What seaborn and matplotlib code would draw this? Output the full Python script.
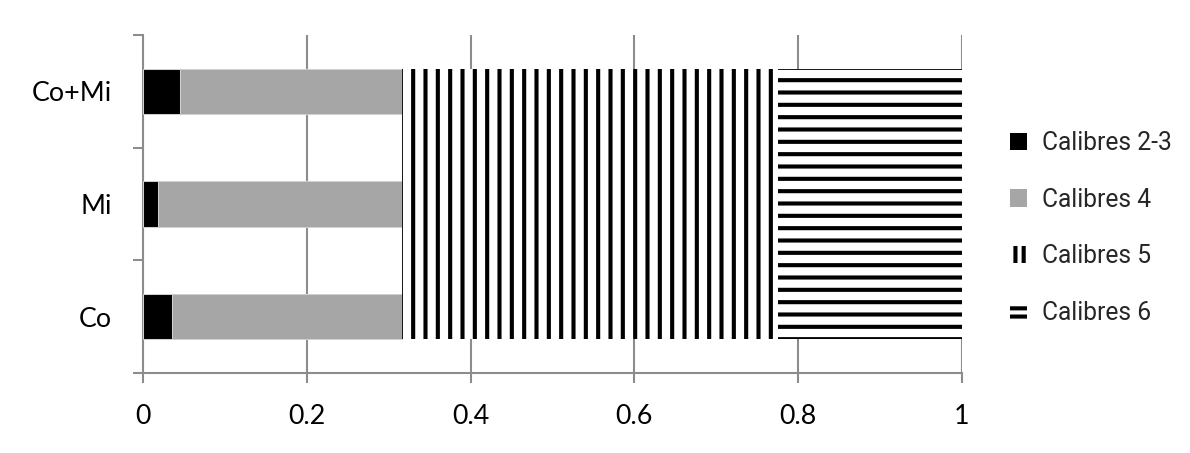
import numpy as np
import pandas as pd
import seaborn as sns
import matplotlib.pyplot as plt
from matplotlib.patches import Patch
from matplotlib.ticker import FuncFormatter, FixedLocator

# data (shares, stacked left to right)
categories = ['Co', 'Mi', 'Co+Mi']
cal_23 = [0.035, 0.018, 0.045]
cal_4 = [0.281, 0.298, 0.271]
cal_5 = [0.459, 0.459, 0.459]
cal_6 = [0.225, 0.225, 0.225]
labels = ['Calibres 2-3', 'Calibres 4', 'Calibres 5', 'Calibres 6']

sns.set_theme(style='white')
plt.rcParams['font.family'] = ['Lato', 'DejaVu Sans']
plt.rcParams['hatch.linewidth'] = 2.0
plt.rcParams['hatch.color'] = 'black'

order = categories[::-1]  # seaborn draws first category on top
df = pd.DataFrame({'cat': categories, 'c23': cal_23, 'c4': cal_4,
                   'c5': cal_5, 'c6': cal_6})
df['cum4'] = df['c23'] + df['c4']
df['cum5'] = df['cum4'] + df['c5']

fig, ax = plt.subplots(figsize=(1190 / 148, 453 / 148), dpi=148)
fig.subplots_adjust(left=143 / 1190, right=962 / 1190, top=1 - 35 / 453, bottom=1 - 373 / 453)

bar_h = 0.4
gray = '#a6a6a6'
sns.barplot(data=df, x='cum4', y='cat', order=order, color=gray, width=bar_h,
            saturation=1, edgecolor='#d0d0d0', linewidth=0.5, ax=ax, zorder=2)
sns.barplot(data=df, x='c23', y='cat', order=order, color='black', width=bar_h,
            saturation=1, edgecolor='#d0d0d0', linewidth=0.5, ax=ax, zorder=3)

# hatched parts are drawn as one joined block in the original
d = df.set_index('cat').loc[order]
n = len(order)
for i, (cat, row) in enumerate(d.iterrows()):
    lo = i - 0.5 if i > 0 else i - bar_h / 2
    hi = i + 0.5 if i < n - 1 else i + bar_h / 2
    ax.barh(lo, row['c5'], height=hi - lo, left=row['cum4'], align='edge',
            facecolor='white', edgecolor='black', linewidth=0, hatch='||', zorder=2)
    ax.barh(lo, row['c6'], height=hi - lo, left=row['cum5'], align='edge',
            facecolor='white', edgecolor='black', linewidth=0, hatch='--', zorder=2)

ax.set_xlim(0, 1)
ax.set_ylim(n - 0.5, -0.5)
ax.set_xticks(np.arange(0, 1.01, 0.2))
ax.xaxis.set_major_formatter(FuncFormatter(lambda v, p: '%g' % round(v, 1)))
ax.yaxis.set_minor_locator(FixedLocator(np.arange(-0.5, n, 1.0)))
ax.set_xlabel('')
ax.set_ylabel('')

grid_c = '#8c8c8c'
ax.set_axisbelow(True)
ax.grid(axis='x', color=grid_c, linewidth=1.0)
ax.grid(axis='y', visible=False)
sns.despine(ax=ax, top=True, right=True)
for s in ['left', 'bottom']:
    ax.spines[s].set_color(grid_c)
    ax.spines[s].set_linewidth(1.0)

ax.tick_params(axis='x', which='major', bottom=True, length=5, width=1, color=grid_c,
               labelsize=13, pad=10, labelcolor='black')
ax.tick_params(axis='y', which='major', left=False, length=0, labelsize=13, pad=15,
               labelcolor='black')
ax.tick_params(axis='y', which='minor', left=True, length=5, width=1, color=grid_c)

handles = [Patch(facecolor='black', edgecolor='black', linewidth=0),
           Patch(facecolor=gray, edgecolor=gray, linewidth=0),
           Patch(facecolor='white', edgecolor='black', linewidth=0, hatch='|||'),
           Patch(facecolor='white', edgecolor='black', linewidth=0, hatch='---')]
fig.legend(handles, labels, loc='center left', bbox_to_anchor=(1010 / 1190, 1 - 228 / 453),
           frameon=False, borderpad=0, borderaxespad=0, handlelength=0.7, handleheight=0.7,
           handletextpad=0.6, labelspacing=1.33,
           prop={'family': ['Liberation Sans Narrow', 'Roboto'], 'size': 12})

fig.savefig('out.png', dpi=148)
